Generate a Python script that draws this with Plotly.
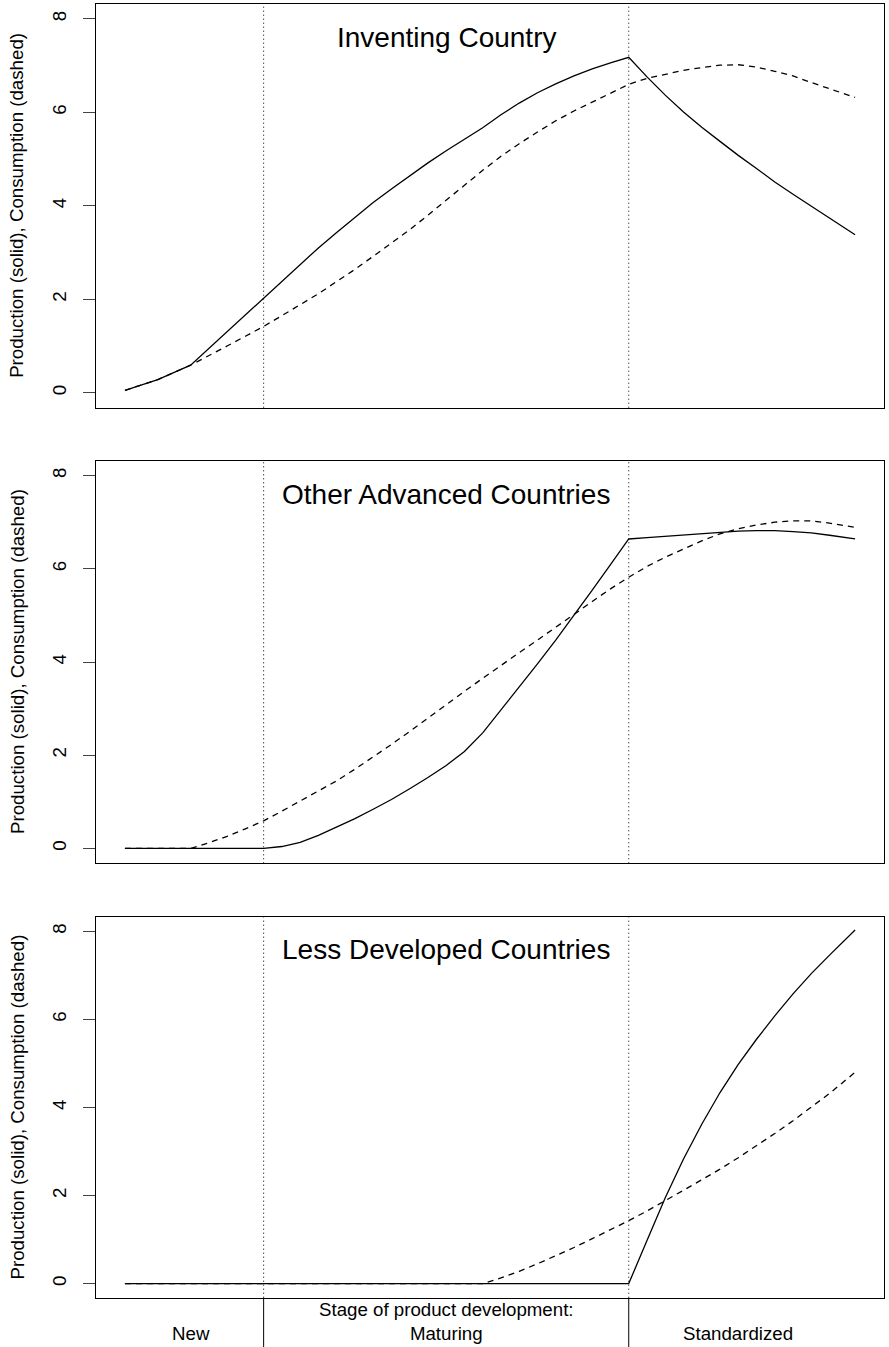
import plotly.graph_objects as go

# Stage axis (arbitrary time units); stage boundaries at 20 and 70
stage_x = [1, 5.5, 10, 12.5, 15, 17.5, 20, 22.5, 25, 27.5, 30, 32.5, 35, 37.5,
           40, 42.5, 45, 47.5, 50, 52.5, 55, 57.5, 60, 62.5, 65, 67.5, 70,
           72.5, 75, 77.5, 80, 82.5, 85, 87.5, 90, 92.5, 95, 97.5, 101]
stage_breaks = [20, 70]

# Inventing country
inventing_prod = [0.05, 0.28, 0.59, 0.95, 1.31, 1.67, 2.03, 2.40, 2.76, 3.10, 3.43, 3.76,
                  4.07, 4.36, 4.65, 4.92, 5.18, 5.43, 5.67, 5.95, 6.20, 6.42, 6.61, 6.78,
                  6.93, 7.06, 7.18, 6.76, 6.37, 6.01, 5.68, 5.38, 5.08, 4.80, 4.51, 4.25,
                  3.99, 3.74, 3.38]
inventing_cons = [0.05, 0.28, 0.59, 0.79, 1.00, 1.21, 1.42, 1.65, 1.88, 2.12, 2.38, 2.64,
                  2.92, 3.20, 3.49, 3.80, 4.12, 4.45, 4.76, 5.06, 5.33, 5.58, 5.82, 6.03,
                  6.22, 6.42, 6.60, 6.73, 6.82, 6.90, 6.96, 7.01, 7.02, 6.97, 6.88, 6.78,
                  6.64, 6.50, 6.32]

# Other advanced countries
advanced_prod = [0, 0, 0, 0, 0, 0, 0, 0.04, 0.13, 0.28, 0.46, 0.64,
                 0.84, 1.05, 1.28, 1.52, 1.78, 2.08, 2.48, 2.97, 3.46, 3.96, 4.47, 5.00,
                 5.54, 6.09, 6.64, 6.67, 6.70, 6.73, 6.76, 6.79, 6.81, 6.82, 6.82, 6.80,
                 6.77, 6.72, 6.64]
advanced_cons = [0, 0, 0, 0.12, 0.26, 0.42, 0.59, 0.80, 1.02, 1.23, 1.45, 1.70,
                 1.96, 2.23, 2.51, 2.80, 3.08, 3.37, 3.65, 3.93, 4.20, 4.47, 4.74, 5.02,
                 5.30, 5.57, 5.82, 6.05, 6.25, 6.43, 6.60, 6.75, 6.86, 6.94, 7.00, 7.03,
                 7.03, 6.98, 6.89]

# Less developed countries
ldc_prod = [0, 0, 0, 0, 0, 0, 0, 0, 0, 0, 0, 0,
            0, 0, 0, 0, 0, 0, 0, 0, 0, 0, 0, 0,
            0, 0, 0, 0.98, 1.95, 2.83, 3.62, 4.34, 4.98, 5.55, 6.08, 6.58,
            7.04, 7.46, 8.03]
ldc_cons = [0, 0, 0, 0, 0, 0, 0, 0, 0, 0, 0, 0,
            0, 0, 0, 0, 0, 0, 0, 0.13, 0.28, 0.45, 0.63, 0.82,
            1.02, 1.22, 1.43, 1.65, 1.88, 2.12, 2.36, 2.60, 2.86, 3.13, 3.41, 3.70,
            4.00, 4.32, 4.80]

panel_titles = ["Inventing Country", "Other Advanced Countries", "Less Developed Countries"]
y_ticks = [0, 2, 4, 6, 8]
y_title = "Production (solid), Consumption (dashed)"
stage_label_x = [10, 45, 85]
stage_labels = ["New", "Stage of product development:<br>Maturing", "Standardized"]

W, H = 889, 1347
FONT = "Liberation Sans, Arial, Helvetica, sans-serif"
x_dom = [95.7 / W, 884.3 / W]
y_doms = [(1 - 407.7 / H, 1 - 4.0 / H),
          (1 - 863.3 / H, 1 - 460.7 / H),
          (1 - 1297.7 / H, 1 - 917.3 / H)]

series = [(inventing_prod, inventing_cons),
          (advanced_prod, advanced_cons),
          (ldc_prod, ldc_cons)]

fig = go.Figure()
shapes = []
annotations = []

for i, (prod, cons) in enumerate(series, start=1):
    sfx = "" if i == 1 else str(i)
    xa, ya = f"x{sfx}", f"y{sfx}"
    fig.add_trace(go.Scatter(x=stage_x, y=prod, mode="lines", xaxis=xa, yaxis=ya,
                             line=dict(color="black", width=1.3), hoverinfo="skip"))
    fig.add_trace(go.Scatter(x=stage_x, y=cons, mode="lines", xaxis=xa, yaxis=ya,
                             line=dict(color="black", width=1.3, dash="6px,5px"),
                             hoverinfo="skip"))
    fig.update_layout(**{
        f"xaxis{sfx}": dict(domain=x_dom, range=[-3, 105], anchor=ya,
                            showline=True, mirror=True, linecolor="black", linewidth=1,
                            showticklabels=False, ticks="", showgrid=False,
                            zeroline=False, fixedrange=True),
        f"yaxis{sfx}": dict(domain=list(y_doms[i - 1]), range=[-0.32, 8.32], anchor=xa,
                            showline=True, mirror=True, linecolor="black", linewidth=1,
                            tickvals=y_ticks, ticks="outside", ticklen=12, tickwidth=1,
                            tickcolor="#444", tickangle=-90, ticklabelstandoff=9,
                            tickfont=dict(family=FONT, size=18.7, color="black"),
                            showgrid=False, zeroline=False, fixedrange=True),
    })
    # stage boundaries as dotted verticals
    for b in stage_breaks:
        shapes.append(dict(type="line", xref=xa, yref=f"{ya} domain", x0=b, x1=b,
                           y0=0, y1=1, line=dict(color="black", width=1, dash="1px,3px")))
    annotations.append(dict(x=45, y=7.6, xref=xa, yref=ya, text=panel_titles[i - 1],
                            showarrow=False, xanchor="center", yanchor="middle",
                            font=dict(family=FONT, size=28, color="black")))
    annotations.append(dict(x=17 / W, y=sum(y_doms[i - 1]) / 2, xref="paper", yref="paper",
                            text=y_title, textangle=-90, showarrow=False,
                            xanchor="center", yanchor="middle",
                            font=dict(family=FONT, size=18.7, color="black")))

# stage separators below the bottom panel
for b in stage_breaks:
    shapes.append(dict(type="line", xref="x3", yref="paper", x0=b, x1=b,
                       y0=0, y1=y_doms[2][0], line=dict(color="black", width=1)))

label_y = [1 - 1333 / H, 1 - 1321.5 / H, 1 - 1333 / H]
for lx, ly, txt in zip(stage_label_x, label_y, stage_labels):
    annotations.append(dict(x=lx, y=ly, xref="x3", yref="paper", text=txt,
                            showarrow=False, xanchor="center", yanchor="middle",
                            font=dict(family=FONT, size=18.7, color="black")))

fig.update_layout(width=W, height=H, margin=dict(l=0, r=0, t=0, b=0),
                  paper_bgcolor="white", plot_bgcolor="white", showlegend=False,
                  shapes=shapes, annotations=annotations)

fig.write_html("out.html")
